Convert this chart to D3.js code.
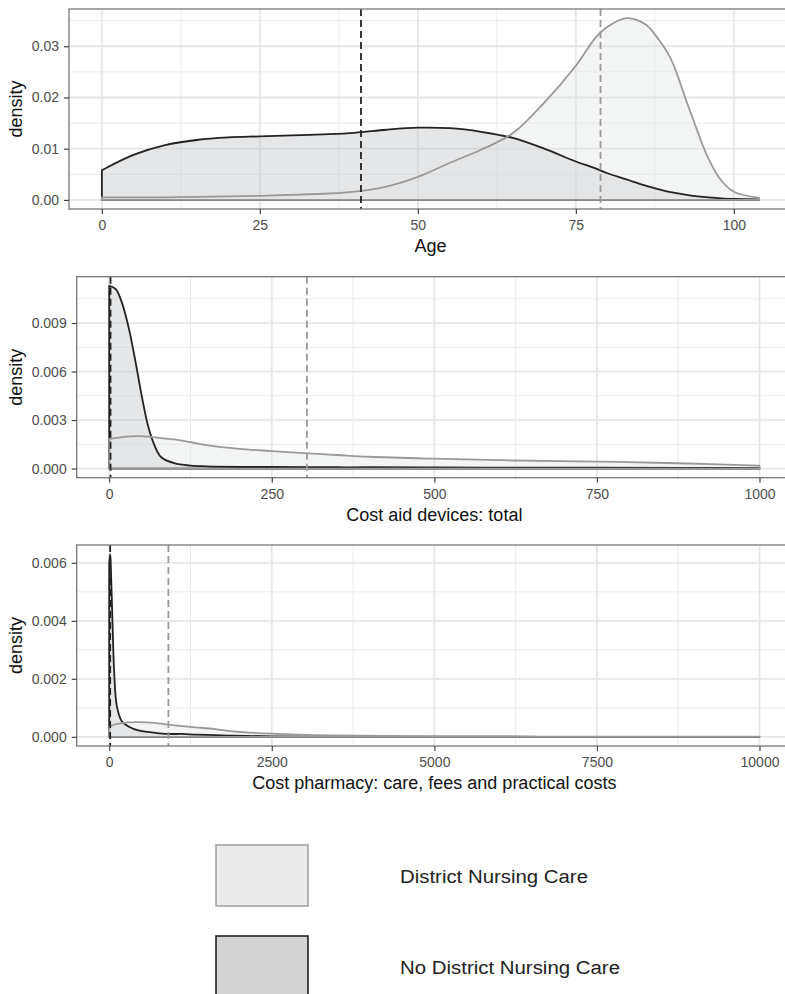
<!DOCTYPE html>
<html>
<head>
<meta charset="utf-8">
<script src="https://cdn.jsdelivr.net/npm/d3@7"></script>
<style>
body { margin: 0; background: #fff; }
text { font-family: "Liberation Sans", Arial, sans-serif; }
</style>
</head>
<body>
<script>
// group names (legend order)
var groups = ["District Nursing Care", "No District Nursing Care"];

// Age panel, density per group
var ageX     = [0, 5, 10, 15, 20, 25, 30, 35, 40, 45, 50, 55, 60, 65, 70, 75, 78, 80, 83, 86, 88, 90, 93, 96, 98, 100, 104];
var ageDnc   = [0.0005, 0.0005, 0.0005, 0.0006, 0.0007, 0.0008, 0.0010, 0.0012, 0.0016, 0.0026, 0.0045, 0.0072, 0.0098, 0.0130, 0.0190, 0.0262, 0.0315, 0.0338, 0.0355, 0.0343, 0.0315, 0.0276, 0.0176, 0.0080, 0.0038, 0.0016, 0.0004];
var ageNoDnc = [0.0058, 0.0088, 0.0107, 0.0117, 0.0122, 0.0124, 0.0126, 0.0128, 0.0131, 0.0137, 0.0141, 0.0140, 0.0133, 0.0121, 0.0100, 0.0075, 0.0062, 0.0052, 0.0040, 0.0028, 0.0021, 0.0015, 0.0009, 0.0005, 0.0003, 0.0002, 0.0001];
var ageTicksX = [0, 25, 50, 75, 100];
var ageTicksY = [0, 0.01, 0.02, 0.03];
var ageMeans = [78.9, 41];   // dnc, no dnc

// Cost aid devices panel
var aidX     = [0, 10, 20, 30, 40, 50, 60, 70, 80, 100, 125, 150, 200, 250, 300, 350, 400, 500, 625, 750, 875, 1000];
var aidDnc   = [0.00184, 0.0019, 0.00195, 0.00199, 0.0020, 0.0020, 0.00197, 0.00193, 0.00188, 0.0018, 0.00163, 0.00145, 0.00122, 0.00108, 0.00095, 0.00084, 0.00073, 0.00061, 0.0005, 0.00043, 0.00033, 0.00018];
var aidNoDnc = [0.0113, 0.0111, 0.0102, 0.0087, 0.0067, 0.0045, 0.0026, 0.0014, 0.0007, 0.00033, 0.00018, 0.00014, 0.00011, 0.0001, 0.00009, 0.00008, 0.00008, 0.00007, 0.00006, 0.00005, 0.00004, 0.00003];
var aidTicksX = [0, 250, 500, 750, 1000];
var aidTicksY = [0, 0.003, 0.006, 0.009];
var aidMeans = [304, 2];

// Cost pharmacy panel
var phX     = [0, 15, 26, 51, 77, 118, 195, 296, 450, 706, 910, 1120, 1330, 1630, 1900, 2500, 3400, 5000, 7500, 10000];
var phDnc   = [0.00034, 0.00036, 0.00037, 0.0004, 0.00042, 0.00044, 0.00047, 0.0005, 0.00051, 0.00048, 0.00042, 0.00037, 0.00033, 0.00027, 0.00019, 0.00011, 0.00005, 0.00002, 0.00001, 0.00001];
var phNoDnc = [0.0060, 0.0063, 0.0058, 0.0039, 0.0022, 0.00105, 0.00053, 0.00036, 0.00022, 0.00014, 0.0001, 0.0001, 0.00008, 0.00006, 0.00004, 0.00002, 0.00001, 0.00001, 0, 0];
var phTicksX = [0, 2500, 5000, 7500, 10000];
var phTicksY = [0, 0.002, 0.004, 0.006];
var phMeans = [910, 15];

var width = 785, height = 994;
var plotRight = 792;

var fills = ["#e0e3e3", "#bfc1c6"];
var lines = ["#999999", "#222222"];

var svg = d3.select("body").append("svg")
    .attr("width", width)
    .attr("height", height);

// minor breaks sit halfway between the major ones
function minorTicks(ticks, domain) {
    var step = ticks[1] - ticks[0];
    var out = [];
    for (var v = ticks[0] - step / 2; v <= domain[1]; v += step) {
        if (v >= domain[0]) out.push(v);
    }
    return out;
}

function drawPanel(p, idx) {
    var xExt = d3.extent(p.x);
    var xPad = (xExt[1] - xExt[0]) * 0.05;
    var x = d3.scaleLinear()
        .domain([xExt[0] - xPad, xExt[1] + xPad])
        .range([p.left, plotRight]);

    var yMax = d3.max(p.dnc.concat(p.noDnc));
    var y = d3.scaleLinear()
        .domain([-0.05 * yMax, 1.05 * yMax])
        .range([p.bottom, p.top]);

    var g = svg.append("g");

    g.append("clipPath").attr("id", "clip" + idx)
        .append("rect")
        .attr("x", p.left).attr("y", p.top)
        .attr("width", plotRight - p.left).attr("height", p.bottom - p.top);

    var inner = g.append("g").attr("clip-path", "url(#clip" + idx + ")");

    // grid
    inner.selectAll("line.minx").data(minorTicks(p.ticksX, x.domain())).enter().append("line")
        .attr("x1", x).attr("x2", x).attr("y1", p.top).attr("y2", p.bottom)
        .attr("stroke", "#ebebeb").attr("stroke-width", 1);
    inner.selectAll("line.miny").data(minorTicks(p.ticksY, y.domain())).enter().append("line")
        .attr("y1", y).attr("y2", y).attr("x1", p.left).attr("x2", plotRight)
        .attr("stroke", "#ebebeb").attr("stroke-width", 1);
    inner.selectAll("line.majx").data(p.ticksX).enter().append("line")
        .attr("x1", x).attr("x2", x).attr("y1", p.top).attr("y2", p.bottom)
        .attr("stroke", "#e6e6e6").attr("stroke-width", 1.8);
    inner.selectAll("line.majy").data(p.ticksY).enter().append("line")
        .attr("y1", y).attr("y2", y).attr("x1", p.left).attr("x2", plotRight)
        .attr("stroke", "#e6e6e6").attr("stroke-width", 1.8);

    var area = d3.area()
        .x(function(d) { return x(d[0]); })
        .y0(y(0))
        .y1(function(d) { return y(Math.max(0, d[1])); })
        .curve(d3.curveCatmullRom.alpha(0.5));

    // no district nursing first, district nursing on top
    var series = [
        { vals: p.noDnc, k: 1 },
        { vals: p.dnc, k: 0 }
    ];
    series.forEach(function(s) {
        s.pts = p.x.map(function(v, i) { return [v, s.vals[i]]; });
    });
    // fills first, outlines after so the dark line stays dark
    series.forEach(function(s) {
        inner.append("path")
            .attr("d", area(s.pts))
            .attr("fill", fills[s.k])
            .attr("fill-opacity", 0.4);
    });
    series.forEach(function(s) {
        inner.append("path")
            .attr("d", area(s.pts))
            .attr("fill", "none")
            .attr("stroke", lines[s.k])
            .attr("stroke-width", 1.8)
            .attr("stroke-linejoin", "round");
    });

    // mean lines
    p.means.forEach(function(m, k) {
        inner.append("line")
            .attr("x1", x(m)).attr("x2", x(m))
            .attr("y1", p.top).attr("y2", p.bottom)
            .attr("stroke", lines[k])
            .attr("stroke-width", 1.8)
            .attr("stroke-dasharray", "7,4");
    });

    // panel border
    g.append("rect")
        .attr("x", p.left).attr("y", p.top)
        .attr("width", plotRight - p.left).attr("height", p.bottom - p.top)
        .attr("fill", "none").attr("stroke", "#777").attr("stroke-width", 1.3);

    var xAxis = g.append("g")
        .attr("transform", "translate(0," + p.bottom + ")")
        .call(d3.axisBottom(x).tickValues(p.ticksX).tickFormat(d3.format("d")).tickSize(5).tickPadding(6));
    var yAxis = g.append("g")
        .attr("transform", "translate(" + p.left + ",0)")
        .call(d3.axisLeft(y).tickValues(p.ticksY).tickFormat(d3.format(p.yFormat)).tickSize(5).tickPadding(5));

    [xAxis, yAxis].forEach(function(a) {
        a.select(".domain").remove();
        a.selectAll(".tick line").attr("stroke", "#444").attr("stroke-width", 1.2);
        a.selectAll(".tick text")
            .attr("fill", "#4d4d4d")
            .style("font-size", "14px")
            .style("font-family", "'Liberation Sans', Arial, sans-serif");
    });

    g.append("text")
        .attr("x", (p.left + plotRight) / 2)
        .attr("y", p.bottom + 43)
        .attr("text-anchor", "middle")
        .style("font-size", "18px")
        .attr("fill", "#111")
        .text(p.title);

    g.append("text")
        .attr("transform", "translate(21.5," + ((p.top + p.bottom) / 2) + ") rotate(-90)")
        .attr("text-anchor", "middle")
        .style("font-size", "18px")
        .attr("fill", "#111")
        .text("density");
}

drawPanel({ x: ageX, dnc: ageDnc, noDnc: ageNoDnc, ticksX: ageTicksX, ticksY: ageTicksY,
    yFormat: ".2f", means: ageMeans, title: "Age", left: 69, top: 9, bottom: 209 }, 0);
drawPanel({ x: aidX, dnc: aidDnc, noDnc: aidNoDnc, ticksX: aidTicksX, ticksY: aidTicksY,
    yFormat: ".3f", means: aidMeans, title: "Cost aid devices: total", left: 76.7, top: 276.7, bottom: 477.7 }, 1);
drawPanel({ x: phX, dnc: phDnc, noDnc: phNoDnc, ticksX: phTicksX, ticksY: phTicksY,
    yFormat: ".3f", means: phMeans, title: "Cost pharmacy: care, fees and practical costs", left: 76.7, top: 545, bottom: 746 }, 2);

// legend
var legendFill = ["#ebebeb", "#d3d3d3"];
var legendStroke = ["#a3a3a3", "#222"];
var legendLen = [188, 220];
var legend = svg.selectAll("g.legend").data(groups).enter().append("g")
    .attr("class", "legend")
    .attr("transform", function(d, i) { return "translate(0," + (845 + i * 91) + ")"; });

legend.append("rect")
    .attr("x", 216).attr("y", 0)
    .attr("width", 92).attr("height", 61)
    .attr("fill", function(d, i) { return legendFill[i]; })
    .attr("stroke", function(d, i) { return legendStroke[i]; })
    .attr("stroke-width", 1.6);

legend.append("text")
    .attr("x", 400).attr("y", 38)
    .attr("textLength", function(d, i) { return legendLen[i]; })
    .attr("lengthAdjust", "spacingAndGlyphs")
    .style("font-size", "18px")
    .attr("fill", "#222")
    .text(function(d) { return d; });
</script>
</body>
</html>
